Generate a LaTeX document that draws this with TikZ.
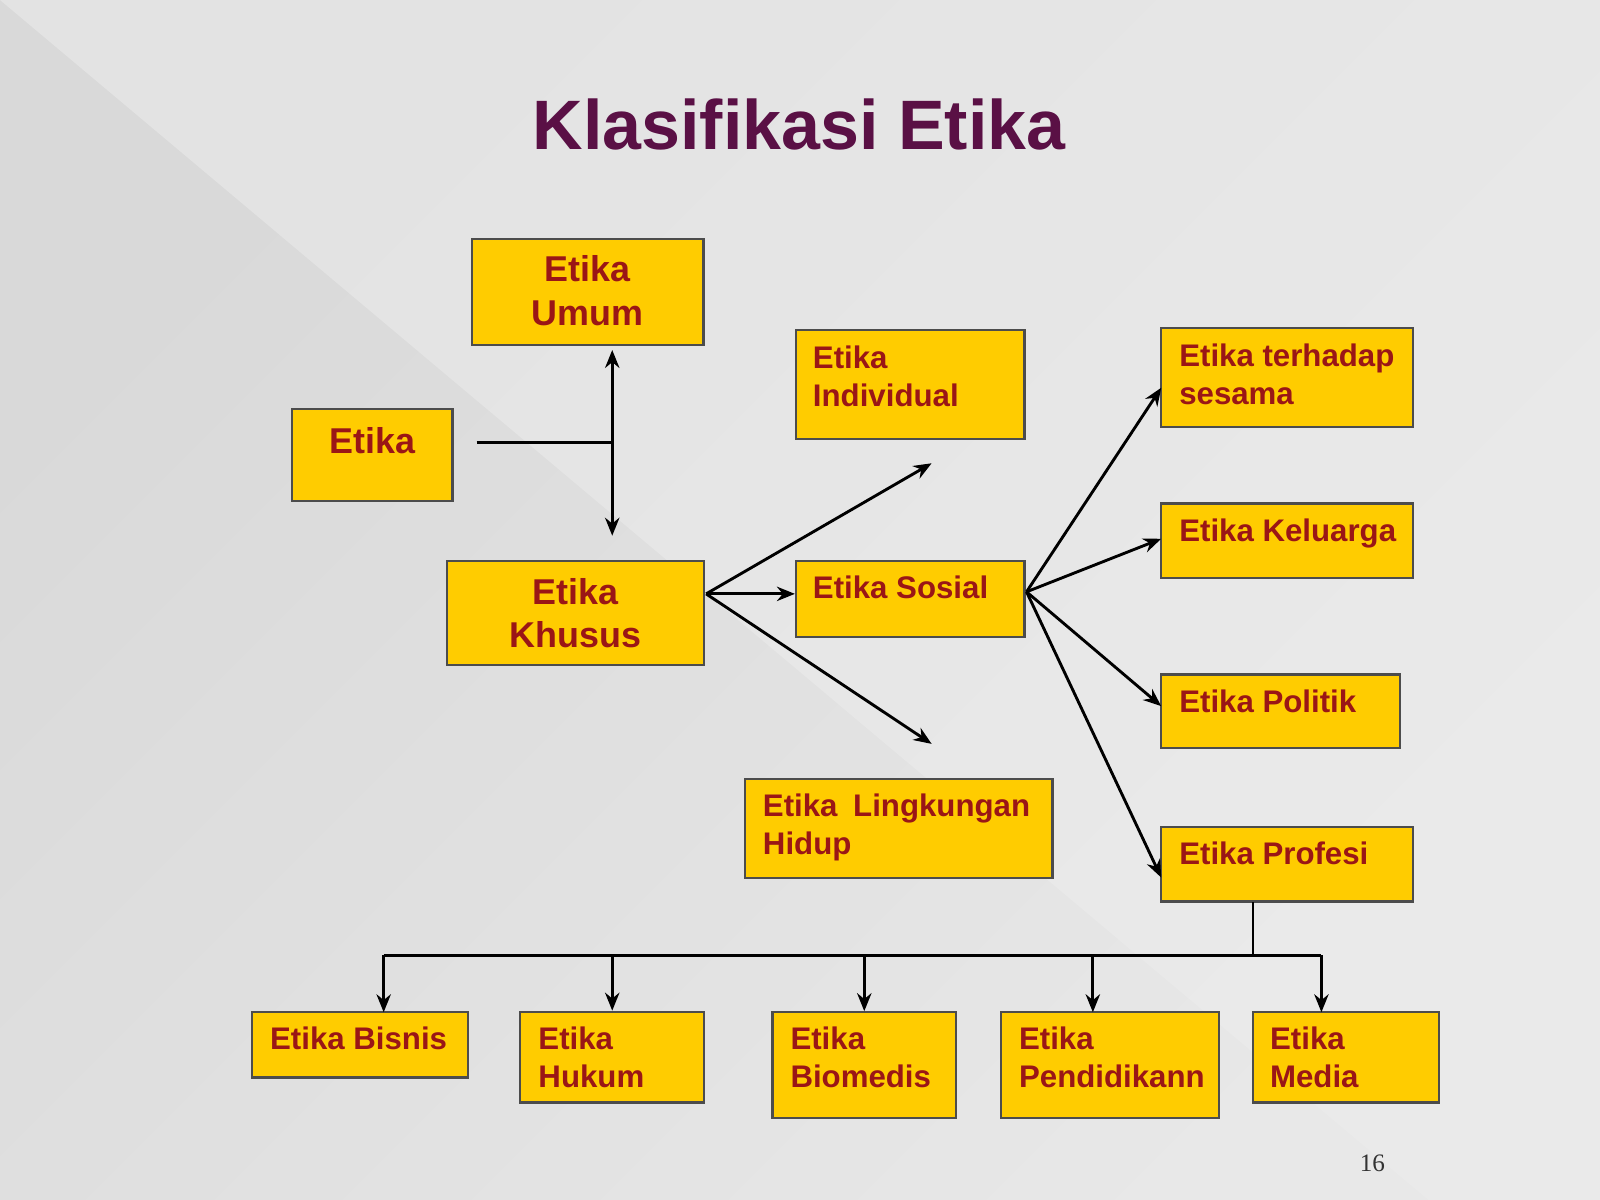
\documentclass[tikz,border=0pt]{standalone}
\usepackage{fontspec}
\setmainfont{Liberation Sans}
\usetikzlibrary{arrows.meta}
\definecolor{bx}{HTML}{FFCC00}
\definecolor{tx}{HTML}{9A1616}
\definecolor{ttl}{HTML}{5A1045}
\begin{document}
\begin{tikzpicture}[x=0.01cm,y=-0.01cm,
 box/.style={draw=black!70,line width=0.6pt,fill=bx,inner sep=0pt},
 lbl/.style={anchor=north west,text=tx,font=\bfseries\fontsize{8.7}{10.6}\selectfont,align=left,inner sep=0pt},
 clbl/.style={text=tx,font=\bfseries\fontsize{10}{12.2}\selectfont,align=center,inner sep=0pt},
 ar/.style={-{Stealth[length=5pt,width=4pt]},line width=0.8pt},
 ln/.style={line width=0.8pt}]
\useasboundingbox (0,0) rectangle (1568,1176);
\shade[left color=black!15,right color=black!9,shading angle=45] (0,0) rectangle (1568,1176);
\fill[black!7,opacity=0.5] (0,0) -- (1568,0) -- (1568,1176) -- (1400,1176) -- (0,0) -- cycle;
\node[font=\bfseries\fontsize{19.5}{23}\selectfont,text=ttl] (title) at (783,122) {Klasifikasi Etika};
% boxes
\node[box,minimum width=227*0.01cm,minimum height=104*0.01cm] (umum) at (576,286) {};
\node[clbl] (umumt) at (576,285) {Etika\\Umum};
\node[box,minimum width=157*0.01cm,minimum height=90*0.01cm] (etika) at (365,446) {};
\node[clbl] (etikat) at (365,432) {Etika};
\node[box,minimum width=252*0.01cm,minimum height=102*0.01cm] (khusus) at (564,601) {};
\node[clbl] (khusust) at (564,601) {Etika\\Khusus};
\node[box,minimum width=224*0.01cm,minimum height=107*0.01cm] (indiv) at (892,377) {};
\node[lbl] (indivt) at (796,338) {Etika\\Individual};
\node[box,minimum width=224*0.01cm,minimum height=75*0.01cm] (sosial) at (892,587) {};
\node[lbl] (sosialt) at (796,564) {Etika Sosial};
\node[box,minimum width=301*0.01cm,minimum height=97*0.01cm] (lingk) at (881,812) {};
\node[lbl] (lingkt) at (747,777) {Etika\enspace Lingkungan\\Hidup};
\node[box,minimum width=247*0.01cm,minimum height=97*0.01cm] (sesama) at (1261,370) {};
\node[lbl] (sesamat) at (1155,336) {Etika terhadap\\sesama};
\node[box,minimum width=247*0.01cm,minimum height=73*0.01cm] (kel) at (1261,530) {};
\node[lbl] (kelt) at (1155,508) {Etika Keluarga};
\node[box,minimum width=234*0.01cm,minimum height=72*0.01cm] (pol) at (1255,697) {};
\node[lbl] (polt) at (1155,675) {Etika Politik};
\node[box,minimum width=247*0.01cm,minimum height=73*0.01cm] (prof) at (1261,847) {};
\node[lbl] (proft) at (1155,824) {Etika Profesi};
\node[box,minimum width=212*0.01cm,minimum height=64*0.01cm] (bisnis) at (353,1024) {};
\node[lbl] (bisnist) at (264,1006) {Etika Bisnis};
\node[box,minimum width=180*0.01cm,minimum height=89*0.01cm] (hukum) at (600,1036) {};
\node[lbl] (hukumt) at (527,1006) {Etika\\Hukum};
\node[box,minimum width=180*0.01cm,minimum height=104*0.01cm] (bio) at (847,1044) {};
\node[lbl] (biot) at (774,1006) {Etika\\Biomedis};
\node[box,minimum width=214*0.01cm,minimum height=104*0.01cm] (pend) at (1088,1044) {};
\node[lbl] (pendt) at (998,1006) {Etika\\Pendidikann};
\node[box,minimum width=182*0.01cm,minimum height=89*0.01cm] (media) at (1319,1036) {};
\node[lbl] (mediat) at (1244,1006) {Etika\\Media};
\node[font=\fontsize{7}{8}\selectfont,text=black!80] (pg) at (1345,1140) {\setmainfont{Liberation Serif}16};
% connectors
\coordinate (e0) at (467,434); \coordinate (e1) at (600,434);
\coordinate (up) at (600,343); \coordinate (dn) at (600,525);
\draw[ln] (e0) -- (e1);
\draw[ar] (e1) -- (up); \draw[ar] (e1) -- (dn);
\coordinate (k) at (692,582);
\coordinate (ki) at (913,454); \coordinate (kl) at (913,729); \coordinate (ks) at (779,582);
\draw[ar] (k) -- (ki); \draw[ar] (k) -- (ks); \draw[ar] (k) -- (kl);
\coordinate (s) at (1006,580);
\draw[ar] (s) -- (1138,380); \draw[ar] (s) -- (1138,528);
\draw[ar] (s) -- (1138,692); \draw[ar] (s) -- (1138,860);
\coordinate (p) at (1228,936);
\draw[ln] (1228,884) -- (p);
\draw[ln] (376,936) -- (1295,936);
\draw[ar] (376,936) -- (376,992);
\draw[ar] (600,936) -- (hukum.north);
\draw[ar] (847,936) -- (bio.north);
\draw[ar] (1071,936) -- (1071,992);
\draw[ar] (1295,936) -- (1295,992);
\end{tikzpicture}
\end{document}
